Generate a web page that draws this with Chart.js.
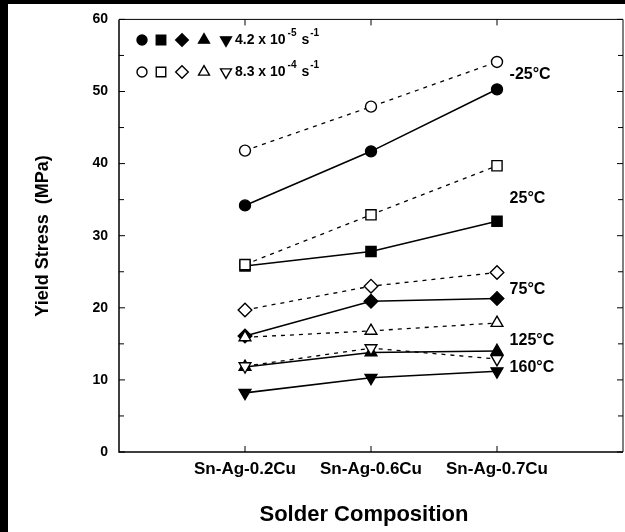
<!DOCTYPE html>
<html>
<head>
<meta charset="utf-8">
<script src="https://cdn.jsdelivr.net/npm/chart.js@4.4.1/dist/chart.umd.min.js"></script>
<style>
  html, body { margin: 0; padding: 0; background: #fff; }
  #wrap { width: 625px; height: 532px; }
</style>
</head>
<body>
<div id="wrap"><canvas id="c"></canvas></div>
<script>
// compositions along the x axis
const categories = ['Sn-Ag-0.2Cu', 'Sn-Ag-0.6Cu', 'Sn-Ag-0.7Cu'];
const temps = ['-25°C', '25°C', '75°C', '125°C', '160°C'];

// yield stress (MPa), strain rate 4.2e-5 /s (filled symbols)
const slowM25 = [34.2, 41.7, 50.3];
const slow25 = [25.8, 27.8, 32.0];
const slow75 = [16.1, 20.9, 21.3];
const slow125 = [11.8, 13.8, 14.0];
const slow160 = [8.2, 10.3, 11.2];

// yield stress (MPa), strain rate 8.3e-4 /s (open symbols)
const fastM25 = [41.8, 47.9, 54.1];
const fast25 = [26.0, 32.9, 39.7];
const fast75 = [19.7, 23.0, 24.9];
const fast125 = [15.9, 16.8, 17.9];
const fast160 = [11.9, 14.4, 12.9];

const yTicks = [0, 10, 20, 30, 40, 50, 60];

const toPts = arr => arr.map((v, i) => ({x: i + 1, y: v}));

const markers = [
  {style: 'circle', rot: 0, r: 5.5},
  {style: 'rect', rot: 0, r: 7.2},
  {style: 'rectRot', rot: 0, r: 6.8},
  {style: 'triangle', rot: 0, r: 6.8},
  {style: 'triangle', rot: 180, r: 6.8}
];

function series(vals, m, open) {
  return {
    data: toPts(vals),
    borderColor: '#000',
    backgroundColor: open ? '#fff' : '#000',
    borderWidth: open ? 1.3 : 1.6,
    borderDash: open ? [4, 5] : [],
    pointStyle: m.style,
    pointRotation: m.rot,
    pointRadius: m.r,
    pointBorderWidth: 1.4,
    pointBackgroundColor: open ? '#fff' : '#000',
    pointBorderColor: '#000',
    tension: 0
  };
}

const slowSets = [slowM25, slow25, slow75, slow125, slow160];
const fastSets = [fastM25, fast25, fast75, fast125, fast160];
const datasets = [];
fastSets.forEach((s, i) => datasets.push(series(s, markers[i], true)));
slowSets.forEach((s, i) => datasets.push(series(s, markers[i], false)));

const bgPlugin = {
  id: 'bg',
  beforeDraw(chart) {
    const ctx = chart.ctx;
    ctx.save();
    ctx.fillStyle = '#fff';
    ctx.fillRect(0, 0, chart.width, chart.height);
    ctx.fillStyle = '#000';
    ctx.fillRect(0, 0, 8, chart.height);
    ctx.fillRect(0, 0, chart.width, 4);
    ctx.restore();
  }
};

const framePlugin = {
  id: 'frame',
  beforeDatasetsDraw(chart) {
    const ctx = chart.ctx;
    const {left, right, top, bottom} = chart.chartArea;
    const x = chart.scales.x, y = chart.scales.y;
    ctx.save();
    ctx.strokeStyle = '#000';
    ctx.lineWidth = 1.5;
    ctx.beginPath();
    ctx.moveTo(left, top); ctx.lineTo(left, bottom); ctx.lineTo(right, bottom);
    ctx.stroke();
    ctx.lineWidth = 1;
    ctx.beginPath();
    ctx.moveTo(left, top); ctx.lineTo(right, top); ctx.lineTo(right, bottom);
    ctx.stroke();
    // inward ticks
    ctx.beginPath();
    for (let v = 0; v <= 60; v += 5) {
      const py = y.getPixelForValue(v);
      const len = v % 10 === 0 ? 6 : 5;
      ctx.moveTo(left, py); ctx.lineTo(left + len, py);
      ctx.moveTo(right, py); ctx.lineTo(right - len, py);
    }
    for (let i = 1; i <= categories.length; i++) {
      const px = x.getPixelForValue(i);
      ctx.moveTo(px, bottom); ctx.lineTo(px, bottom - 6);
      ctx.moveTo(px, top); ctx.lineTo(px, top + 6);
    }
    ctx.stroke();
    ctx.restore();
  },
  afterDraw(chart) {
    const ctx = chart.ctx;
    const x = chart.scales.x, y = chart.scales.y;
    const opts = chart.options.plugins.frame;
    ctx.save();
    ctx.fillStyle = '#000';
    // temperature labels
    ctx.font = 'bold 16px "Liberation Sans", Arial, sans-serif';
    ctx.textBaseline = 'middle';
    ctx.textAlign = 'left';
    temps.forEach((t, i) => {
      ctx.fillText(t, x.getPixelForValue(opts.labelX), y.getPixelForValue(opts.labelY[i]));
    });
    // axis titles
    ctx.textAlign = 'center';
    ctx.font = 'bold 22px "Liberation Sans", Arial, sans-serif';
    ctx.fillText('Solder Composition', 364, 515);
    ctx.save();
    ctx.translate(43, 236);
    ctx.rotate(-Math.PI / 2);
    ctx.font = 'bold 18px "Liberation Sans", Arial, sans-serif';
    ctx.fillText('Yield Stress  (MPa)', 0, 0);
    ctx.restore();
    // legend
    const rows = [
      {open: false, text: '4.2 x 10', exp: '-5', y: 40},
      {open: true, text: '8.3 x 10', exp: '-4', y: 72}
    ];
    const mx = [142, 161, 182, 204, 226];
    rows.forEach(row => {
      markers.forEach((m, i) => {
        ctx.fillStyle = row.open ? '#fff' : '#000';
        ctx.strokeStyle = '#000';
        ctx.lineWidth = 1.4;
        Chart.helpers.drawPoint(ctx, {pointStyle: m.style, rotation: m.rot, radius: m.r - 0.5, borderWidth: 1.4}, mx[i], row.y);
      });
      ctx.fillStyle = '#000';
      ctx.textAlign = 'left';
      ctx.textBaseline = 'middle';
      ctx.font = 'bold 14px "Liberation Sans", Arial, sans-serif';
      let px = 235;
      ctx.fillText(row.text, px, row.y);
      px += ctx.measureText(row.text).width + 2;
      ctx.font = 'bold 10px "Liberation Sans", Arial, sans-serif';
      ctx.fillText(row.exp, px, row.y - 7);
      px += ctx.measureText(row.exp).width + 5;
      ctx.font = 'bold 14px "Liberation Sans", Arial, sans-serif';
      ctx.fillText('s', px, row.y);
      px += ctx.measureText('s').width + 1;
      ctx.font = 'bold 10px "Liberation Sans", Arial, sans-serif';
      ctx.fillText('-1', px, row.y - 7);
    });
    ctx.restore();
  }
};

new Chart(document.getElementById('c'), {
  type: 'line',
  data: {datasets: datasets},
  plugins: [bgPlugin, framePlugin],
  options: {
    responsive: true,
    maintainAspectRatio: false,
    animation: false,
    layout: {autoPadding: false, padding: {top: 16, right: 2, left: 0, bottom: 0}},
    plugins: {
      legend: {display: false},
      tooltip: {enabled: false},
      frame: {labelX: 3.1, labelY: [52.3, 35.2, 22.5, 15.5, 11.7]}
    },
    scales: {
      x: {
        type: 'linear',
        min: 0,
        max: 4,
        afterFit: s => { s.height = 80; s.paddingLeft = 0; s.paddingRight = 0; },
        grid: {display: false, drawTicks: false},
        border: {display: false},
        ticks: {
          stepSize: 1,
          padding: 7,
          color: '#000',
          font: {family: '"Liberation Sans", Arial, sans-serif', size: 17, weight: 'bold'},
          callback: v => categories[v - 1] || ''
        }
      },
      y: {
        min: 0,
        max: 60,
        afterFit: s => { s.width = 119; },
        afterBuildTicks: s => { s.ticks = yTicks.map(v => ({value: v})); },
        grid: {display: false, drawTicks: false},
        border: {display: false},
        ticks: {
          padding: 11,
          color: '#000',
          font: {family: '"Liberation Sans", Arial, sans-serif', size: 14, weight: 'bold'}
        }
      }
    }
  }
});
</script>
</body>
</html>
